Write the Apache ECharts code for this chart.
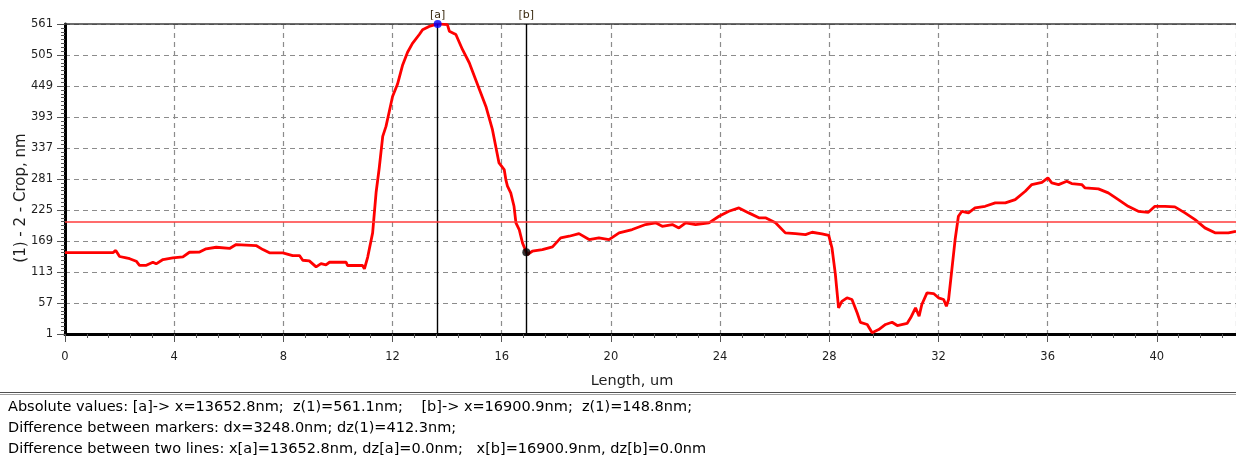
<!DOCTYPE html>
<html>
<head>
<meta charset="utf-8">
<title>Profile (1) - 2 - Crop</title>
<script src="https://cdn.jsdelivr.net/npm/echarts@6/dist/echarts.min.js"></script>
<style>
  html, body { margin: 0; padding: 0; background: #ffffff; }
  #chart { width: 1236px; height: 460px; }
</style>
</head>
<body>
<div id="chart"></div>
<script>
// Profile position along the scan line, um
const lengthUm = [
  0.00, 1.76, 1.86, 2.00, 2.20, 2.37, 2.61, 2.73, 2.98, 3.22, 3.34, 3.59, 3.95, 4.32, 4.56,
  4.93, 5.17, 5.54, 6.03, 6.27, 7.00, 7.25, 7.49, 7.98, 8.34, 8.59, 8.71, 8.95, 9.20, 9.38,
  9.56, 9.69, 10.30, 10.35, 10.90, 10.97, 11.09, 11.27, 11.40, 11.51, 11.64, 11.76, 11.88, 12.00, 12.18,
  12.37, 12.55, 12.73, 12.98, 13.10, 13.34, 13.6528, 14.01, 14.08, 14.32, 14.56, 14.81, 15.05, 15.42, 15.66,
  15.90, 16.09, 16.15, 16.21, 16.33, 16.45, 16.52, 16.64, 16.76, 16.9009, 16.94, 17.12, 17.49, 17.86, 18.16,
  18.47, 18.83, 19.20, 19.56, 19.93, 20.30, 20.78, 21.27, 21.64, 21.88, 22.25, 22.49, 22.74, 23.10, 23.59,
  23.96, 24.32, 24.69, 25.05, 25.42, 25.66, 26.03, 26.39, 26.76, 27.13, 27.37, 27.73, 27.98, 28.10, 28.22,
  28.34, 28.46, 28.65, 28.83, 29.02, 29.14, 29.39, 29.57, 29.81, 30.06, 30.30, 30.49, 30.85, 30.98, 31.16,
  31.29, 31.39, 31.58, 31.82, 32.00, 32.19, 32.29, 32.37, 32.49, 32.61, 32.73, 32.86, 33.10, 33.34, 33.71,
  34.08, 34.45, 34.81, 35.18, 35.42, 35.79, 36.01, 36.15, 36.40, 36.70, 36.88, 37.25, 37.37, 37.86, 38.22,
  38.59, 38.95, 39.32, 39.69, 39.93, 40.30, 40.66, 41.03, 41.40, 41.76, 42.13, 42.62, 42.90
];

// Height z(1), nm
const heightNm = [
  148.0, 148.0, 152.0, 141.0, 139.0, 137.0, 132.5, 125.0, 125.0, 130.6, 127.7, 135.5, 138.5, 140.3, 148.7,
  149.0, 154.8, 157.7, 155.5, 162.6, 160.8, 153.5, 147.6, 147.6, 142.7, 142.7, 134.2, 133.0, 122.3, 128.0,
  126.0, 130.6, 130.6, 124.7, 124.7, 118.7, 140.0, 183.7, 258.0, 300.0, 358.0, 376.0, 403.0, 430.0, 452.0,
  487.0, 510.0, 526.0, 542.0, 550.7, 556.7, 561.1, 560.0, 548.0, 542.0, 515.0, 491.0, 460.0, 412.0, 370.0,
  310.0, 298.0, 280.0, 268.0, 256.0, 231.7, 201.8, 189.7, 165.6, 148.8, 144.5, 150.5, 153.5, 158.4, 174.7,
  177.6, 182.4, 171.6, 174.7, 171.6, 183.7, 189.7, 198.7, 201.8, 195.6, 198.7, 192.7, 201.8, 198.7, 201.8,
  213.7, 222.7, 228.8, 219.8, 210.8, 210.8, 201.8, 183.7, 182.4, 180.6, 184.8, 182.0, 179.0, 156.0, 110.0,
  48.0, 60.0, 66.4, 63.3, 39.3, 22.0, 18.2, 3.2, 9.1, 18.2, 22.3, 16.3, 20.0, 30.2, 48.3,
  33.1, 54.3, 75.4, 74.1, 66.4, 63.3, 51.2, 63.3, 117.4, 171.6, 213.7, 222.7, 219.8, 228.8, 231.7,
  237.9, 237.9, 243.8, 258.8, 270.9, 275.1, 283.0, 274.0, 270.9, 276.9, 272.7, 270.9, 264.9, 263.1, 255.9,
  243.8, 231.7, 222.7, 220.9, 231.7, 231.7, 230.6, 219.8, 207.7, 192.7, 183.7, 183.7, 186.6
];

// Markers [a] and [b]
const markerNames = ['[a]', '[b]'];
const markerXnm = [13652.8, 16900.9];
const markerZnm = [561.1, 148.8];
const markerColors = ['#0000ff', '#000000'];

// Horizontal reference level, nm
const referenceLevel = 204.4;

// Axis ranges and tick steps
const xMin = 0, xMax = 42.9, xStep = 4;
const yMin = 1, yMax = 561, yStep = 56;

// Readout lines under the chart
const readoutLines = [
  'Absolute values: [a]-> x=13652.8nm;  z(1)=561.1nm;    [b]-> x=16900.9nm;  z(1)=148.8nm;',
  'Difference between markers: dx=3248.0nm; dz(1)=412.3nm;',
  'Difference between two lines: x[a]=13652.8nm, dz[a]=0.0nm;   x[b]=16900.9nm, dz[b]=0.0nm'
];

const FONT = "'DejaVu Sans', Tahoma, sans-serif";

const profile = lengthUm.map((x, i) => [x, heightNm[i]]);
const markerPoints = markerXnm.map((x, i) => ({
  value: [x / 1000, markerZnm[i]],
  itemStyle: { color: markerColors[i] }
}));

const gridStyle = { color: '#8c8c8c', width: 1.2, type: [5, 4] };
const markerLabel = (text) => ({
  show: true, position: 'end', formatter: text, distance: 3,
  color: '#3a2a10', fontFamily: FONT, fontSize: 11
});

const chart = echarts.init(document.getElementById('chart'), null, { renderer: 'canvas' });

chart.setOption({
  animation: false,
  backgroundColor: '#ffffff',
  grid: { left: 65, top: 24, right: 0, height: 310, containLabel: false },
  xAxis: [
    {
      type: 'value',
      min: xMin, max: xMax, interval: xStep,
      axisLine: { show: true, onZero: false, lineStyle: { color: '#000000', width: 3 } },
      axisTick: { show: true, inside: false, length: 8, lineStyle: { color: '#555555', width: 1 } },
      minorTick: { show: true, splitNumber: 5, length: 4, lineStyle: { color: '#555555', width: 1 } },
      axisLabel: {
        show: true, margin: 17, color: '#1e1e1e', fontFamily: FONT, fontSize: 11.5,
        showMaxLabel: false
      },
      splitLine: { show: true, lineStyle: gridStyle }
    },
    {
      // top frame of the plot
      type: 'value', position: 'top',
      min: xMin, max: xMax, interval: xStep,
      axisLine: { show: true, onZero: false, lineStyle: { color: '#3c3c3c', width: 1.5 } },
      axisTick: { show: false }, axisLabel: { show: false }, splitLine: { show: false }
    }
  ],
  yAxis: {
    type: 'value',
    min: yMin, max: yMax, interval: yStep,
    axisLine: { show: true, onZero: false, lineStyle: { color: '#000000', width: 3 } },
    axisTick: { show: true, inside: false, length: 8, lineStyle: { color: '#555555', width: 1 } },
    minorTick: { show: true, splitNumber: 8, length: 4, lineStyle: { color: '#555555', width: 1 } },
    axisLabel: { show: true, margin: 12, color: '#1e1e1e', fontFamily: FONT, fontSize: 11.5 },
    splitLine: { show: true, lineStyle: gridStyle }
  },
  series: [
    {
      name: 'z(1)',
      type: 'line',
      data: profile,
      showSymbol: false,
      symbol: 'none',
      lineStyle: { color: '#ff0000', width: 2.8 },
      z: 3,
      markLine: {
        silent: true,
        symbol: ['none', 'none'],
        data: [
          {
            xAxis: markerXnm[0] / 1000,
            lineStyle: { color: '#000000', width: 1.4, type: 'solid' },
            label: markerLabel(markerNames[0])
          },
          {
            xAxis: markerXnm[1] / 1000,
            lineStyle: { color: '#000000', width: 1.4, type: 'solid' },
            label: markerLabel(markerNames[1])
          },
          {
            yAxis: referenceLevel,
            lineStyle: { color: '#ff3b3b', width: 1.6, type: 'solid' },
            label: { show: false }
          }
        ]
      }
    },
    {
      name: 'markers',
      type: 'scatter',
      data: markerPoints,
      symbol: 'circle',
      symbolSize: 8,
      clip: false,
      z: 5
    }
  ],
  graphic: [
    {
      type: 'text', rotation: Math.PI / 2,
      x: 21, y: 198,
      style: {
        text: '(1) - 2 - Crop, nm', font: '15px ' + FONT, fill: '#1e1e1e',
        textAlign: 'center', textVerticalAlign: 'middle'
      }
    },
    {
      type: 'text', x: 632, y: 381,
      style: {
        text: 'Length, um', font: '14.5px ' + FONT, fill: '#1e1e1e',
        textAlign: 'center', textVerticalAlign: 'middle'
      }
    },
    { type: 'line', shape: { x1: 0, y1: 392.5, x2: 1236, y2: 392.5 }, style: { stroke: '#505050', lineWidth: 1 } },
    { type: 'line', shape: { x1: 0, y1: 394.5, x2: 1236, y2: 394.5 }, style: { stroke: '#a0a0a0', lineWidth: 1 } },
    {
      type: 'text', x: 8, y: 407,
      style: { text: readoutLines[0], font: '14.5px ' + FONT, fill: '#000000', textVerticalAlign: 'middle' }
    },
    {
      type: 'text', x: 8, y: 428,
      style: { text: readoutLines[1], font: '14.5px ' + FONT, fill: '#000000', textVerticalAlign: 'middle' }
    },
    {
      type: 'text', x: 8, y: 449,
      style: { text: readoutLines[2], font: '14.5px ' + FONT, fill: '#000000', textVerticalAlign: 'middle' }
    }
  ]
});
</script>
</body>
</html>
